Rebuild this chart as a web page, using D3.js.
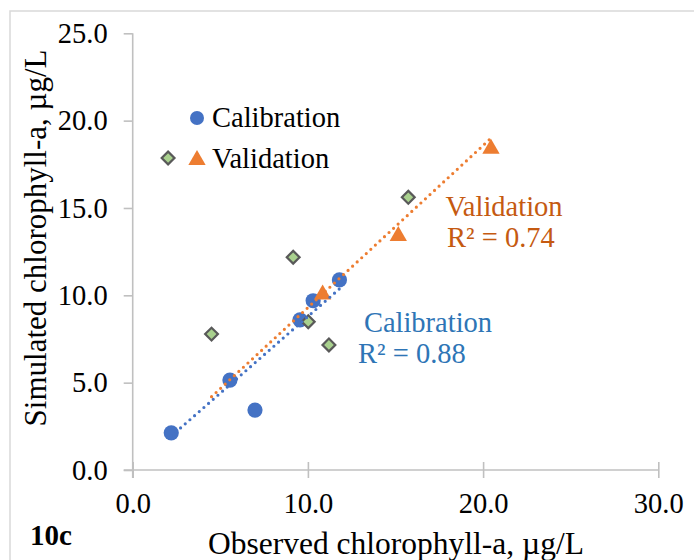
<!DOCTYPE html>
<html>
<head>
<meta charset="utf-8">
<script src="https://cdn.jsdelivr.net/npm/d3@7"></script>
<style>
  html, body { margin: 0; padding: 0; background: #fff; }
  svg { display: block; }
</style>
</head>
<body>
<svg id="chart" width="694" height="560"></svg>
<script>
// ---- data ----
const calibX = [2.2, 5.55, 6.98, 9.55, 10.3, 11.8];
const calibY = [2.13, 5.15, 3.43, 8.6, 9.69, 10.88];
const validX = [10.84, 15.16, 20.45];
const validY = [10.1, 13.45, 18.45];
const otherX = [2.02, 4.5, 9.16, 10.02, 11.2, 15.73];
const otherY = [17.86, 7.78, 12.18, 8.49, 7.16, 15.61];
const xTicks = [0, 10, 20, 30];
const yTicks = [0, 5, 10, 15, 20, 25];
const trendNames = ["Calibration", "Validation"];
const trendSlopes = [0.878, 0.928];
const trendIntercepts = [0.01, 0.02];
const trendFrom = [2.2, 4.5];
const trendTo = [11.8, 20.43];
const trendR2 = ["R² = 0.88", "R² = 0.74"];
const legendNames = ["Calibration", "Validation"];

// ---- styles ----
const BLUE = "#4472C4", ORANGE = "#ED7D31";
const BLUE_TXT = "#2E75B6", ORANGE_TXT = "#C55A11";
const AXIS = "#c0c0c0";
const FS = 28.5;
const SERIF = "'Liberation Serif', 'Times New Roman', Times, serif";

const svg = d3.select("#chart");
const x = d3.scaleLinear().domain([0, 30]).range([132.7, 658.3]);
const y = d3.scaleLinear().domain([0, 25]).range([470, 33.3]);
const fmt = d3.format(".1f");

// outer chart border (cropped at right/bottom)
svg.append("rect").attr("x", 10).attr("y", 11).attr("width", 700).attr("height", 570)
  .attr("fill", "none").attr("stroke", "#d9d9d9").attr("stroke-width", 1.5);

// y axis
const gy = svg.append("g").attr("transform", `translate(${x(0)},0)`)
  .call(d3.axisLeft(y).tickValues(yTicks).tickFormat(fmt).tickSize(9).tickPadding(16));
gy.select(".domain").attr("d", `M0,${y(25)}V${y(0) + 8}`);
// x axis
const gx = svg.append("g").attr("transform", `translate(0,${y(0)})`)
  .call(d3.axisBottom(x).tickValues(xTicks).tickFormat(fmt).tickSize(8).tickPadding(14));
gx.select(".domain").attr("d", `M${x(0) - 9},0H${x(30)}`);
gx.selectAll(".tick line").attr("y1", -8).attr("y2", 8);

[gx, gy].forEach(g => {
  g.select(".domain").attr("stroke", AXIS).attr("stroke-width", 1.6).attr("fill", "none");
  g.selectAll(".tick line").attr("stroke", AXIS).attr("stroke-width", 1.6);
  g.selectAll(".tick text").attr("fill", "#000").attr("font-size", FS);
});
gx.selectAll(".tick text").attr("dy", "0.75em");

// markers
const circleSym = d3.symbol().type(d3.symbolCircle).size(Math.PI * 7.6 * 7.6);
const triSym = d3.symbol().type(d3.symbolTriangle).size(130);
const diaSym = d3.symbol().type(d3.symbolSquare).size(82);

svg.append("g").selectAll("path").data(d3.range(calibX.length)).join("path")
  .attr("d", circleSym)
  .attr("transform", i => `translate(${x(calibX[i])},${y(calibY[i])})`)
  .attr("fill", BLUE);

svg.append("g").selectAll("path").data(d3.range(validX.length)).join("path")
  .attr("d", triSym)
  .attr("transform", i => `translate(${x(validX[i])},${y(validY[i]) + 1})`)
  .attr("fill", ORANGE);

svg.append("g").selectAll("path").data(d3.range(otherX.length)).join("path")
  .attr("d", diaSym)
  .attr("transform", i => `translate(${x(otherX[i])},${y(otherY[i])}) rotate(45)`)
  .attr("fill", "#A9D18E").attr("stroke", "#595959").attr("stroke-width", 2.2);

// trendlines (dotted)
const trendColors = [BLUE, ORANGE];
const line = d3.line().x(d => x(d[0])).y(d => y(d[1]));
trendNames.forEach((n, i) => {
  const pts = [trendFrom[i], trendTo[i]].map(v => [v, trendSlopes[i] * v + trendIntercepts[i]]);
  svg.append("path").attr("d", line(pts))
    .attr("fill", "none").attr("stroke", trendColors[i]).attr("stroke-width", 3.2)
    .attr("stroke-linecap", "round").attr("stroke-dasharray", "0 6.2");
});

// trendline labels
const labelPos = [[428, 332, 412, 363], [504, 216, 501, 247]];
const labelColors = [BLUE_TXT, ORANGE_TXT];
trendNames.forEach((n, i) => {
  const p = labelPos[i];
  svg.append("text").attr("x", p[0]).attr("y", p[1]).attr("text-anchor", "middle")
    .attr("font-size", FS).attr("fill", labelColors[i]).text(n);
  svg.append("text").attr("x", p[2]).attr("y", p[3]).attr("text-anchor", "middle")
    .attr("font-size", FS).attr("fill", labelColors[i]).text(trendR2[i]);
});

// legend
const legY = [118, 159];
const legSyms = [d3.symbol().type(d3.symbolCircle).size(Math.PI * 7 * 7), triSym];
legendNames.forEach((n, i) => {
  svg.append("path").attr("d", legSyms[i])
    .attr("transform", `translate(197,${legY[i] + (i ? 1 : 0)})`)
    .attr("fill", trendColors[i]);
  svg.append("text").attr("x", 212).attr("y", legY[i]).attr("dy", "0.33em")
    .attr("font-size", FS).attr("fill", "#000").text(n);
});

// axis titles
svg.append("text").attr("transform", `translate(46,238) rotate(-90)`)
  .attr("text-anchor", "middle").attr("font-size", 31).attr("fill", "#000")
  .text("Simulated chlorophyll-a, µg/L");
svg.append("text").attr("x", 396).attr("y", 554).attr("text-anchor", "middle")
  .attr("font-size", 31.5).attr("fill", "#000").text("Observed chlorophyll-a, µg/L");

// panel tag
svg.append("text").attr("x", 30).attr("y", 545).attr("font-size", 29)
  .attr("font-weight", "bold").attr("fill", "#000").text("10c");

// force serif face on every label
svg.selectAll("text").style("font-family", SERIF);
</script>
</body>
</html>
